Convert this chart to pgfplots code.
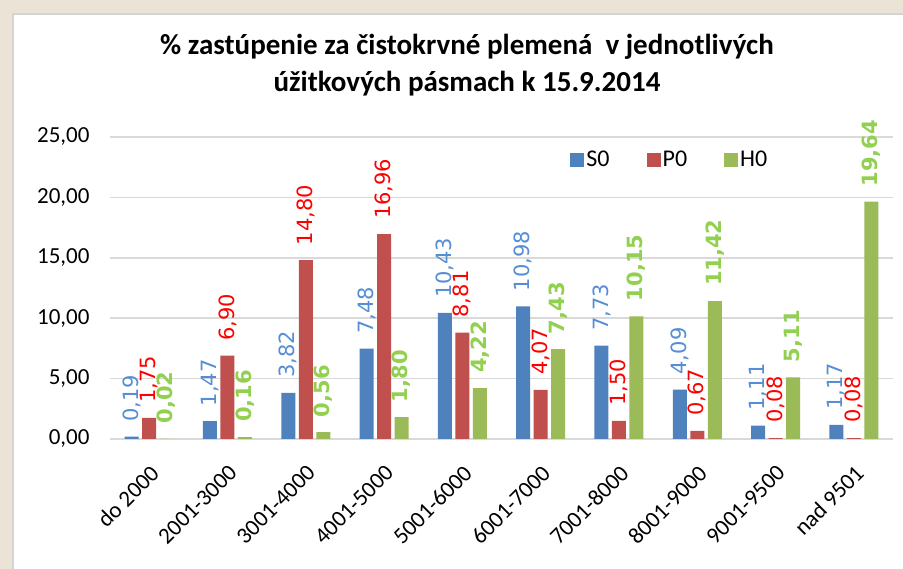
\documentclass[border=0pt]{standalone}
\usepackage{fontspec}
\setmainfont{Carlito}
\newfontfamily\dejavu{DejaVu Sans}
\usepackage{pgfplots}
\pgfplotsset{compat=1.18}
\definecolor{sblue}{HTML}{4F81BD}
\definecolor{pred}{HTML}{C0504D}
\definecolor{hgreen}{HTML}{9BBB59}
\definecolor{sbluelab}{HTML}{558ED5}
\definecolor{predlab}{HTML}{FF0000}
\definecolor{hgreenlab}{HTML}{92D050}
\definecolor{gridgray}{HTML}{D9D9D9}
\definecolor{bgbeige}{HTML}{EAE3D6}
\definecolor{panelgray}{HTML}{D4D4D4}

\begin{document}
\begin{tikzpicture}[x=1pt,y=1pt]
% background photo replaced by a flat tone, white chart panel on top
\fill[bgbeige] (0,0) rectangle (903,569);
\useasboundingbox (0,0) rectangle (903,569);
\fill[white] (13,0) rectangle (903,555);
\draw[panelgray, line width=1.2pt] (13,0) -- (13,555) -- (903,555);
\node[font=\bfseries\fontsize{29}{37}\selectfont, align=center] at (467,503.5)
  {\% zastúpenie za čistokrvné plemená~ v jednotlivých\\úžitkových pásmach k 15.9.2014};

\begin{axis}[
  at={(110pt,130pt)}, anchor=south west,
  scale only axis, width=783pt, height=302pt,
  ybar=3.5pt, bar width=14pt,
  xmin=-0.5, xmax=9.5, ymin=0, ymax=25,
  enlarge x limits=false,
  clip=false,
  axis line style={draw=none},
  tick style={draw=none},
  ymajorgrids, major grid style={gridgray, line width=1.6pt},
  ytick={0,5,10,15,20,25},
  xtick={0,...,9},
  xticklabels={do 2000,2001-3000,3001-4000,4001-5000,5001-6000,6001-7000,7001-8000,8001-9000,9001-9500,nad 9501},
  tick label style={font=\fontsize{23}{23}\selectfont},
  yticklabel style={xshift=-17pt},
  xticklabel style={rotate=45, anchor=north east, yshift=-11pt, xshift=-11pt},
  legend columns=3,
  legend style={at={(0.715,0.924)}, anchor=center, draw=none, fill=none,
    font=\fontsize{24}{24}\selectfont,
    /tikz/every even column/.append style={column sep=35pt}},
  legend image code/.code={\fill[#1] (0pt,-7pt) rectangle (14pt,7pt);},
  every node near coord/.append style={rotate=90, anchor=west, inner xsep=15pt, inner ysep=0pt,
    font=\dejavu\fontsize{21}{21}\selectfont},
  /pgf/number format/use comma,
  /pgf/number format/fixed,
  /pgf/number format/fixed zerofill,
  /pgf/number format/precision=2,
  /pgf/number format/assume math mode=true,
]
\addplot[fill=sblue, draw=none, nodes near coords,
  every node near coord/.append style={text=sbluelab}] coordinates {
  (0,0.19)(1,1.47)(2,3.82)(3,7.48)(4,10.43)(5,10.98)(6,7.73)(7,4.09)(8,1.11)(9,1.17)};
\addplot[fill=pred, draw=none, nodes near coords,
  every node near coord/.append style={text=predlab}] coordinates {
  (0,1.75)(1,6.90)(2,14.80)(3,16.96)(4,8.81)(5,4.07)(6,1.50)(7,0.67)(8,0.08)(9,0.08)};
\addplot[fill=hgreen, draw=none, nodes near coords,
  every node near coord/.append style={text=hgreenlab, font=\dejavu\bfseries\fontsize{21}{21}\selectfont}] coordinates {
  (0,0.02)(1,0.16)(2,0.56)(3,1.80)(4,4.22)(5,7.43)(6,10.15)(7,11.42)(8,5.11)(9,19.64)};
\legend{S0,P0,H0}
\end{axis}
\end{tikzpicture}
\end{document}
